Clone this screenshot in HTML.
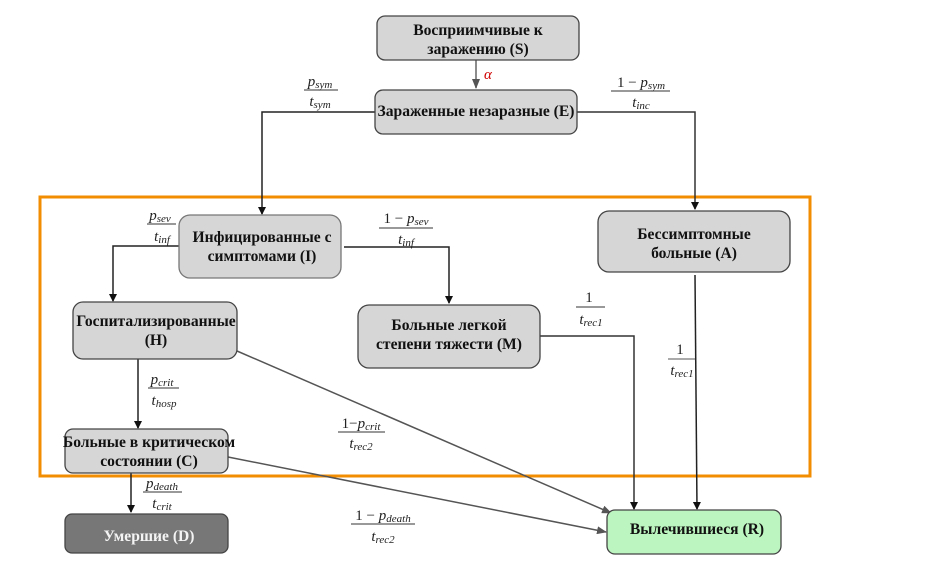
<!DOCTYPE html>
<html><head><meta charset="utf-8"><style>
html,body{margin:0;padding:0;background:#fff;width:941px;height:588px;overflow:hidden}
svg{display:block}
.b{font-family:"Liberation Serif","DejaVu Serif",serif;font-weight:bold;font-size:15.6px;fill:#111}
.m{font-family:"Liberation Serif","DejaVu Serif",serif;font-style:italic;font-size:15px;fill:#222}
.n{font-family:"Liberation Serif","DejaVu Serif",serif;font-style:normal;font-size:15px;fill:#222}
.s{font-size:11px}
</style></head><body>
<svg width="941" height="588" viewBox="0 0 941 588" xmlns="http://www.w3.org/2000/svg">
<defs>
<marker id="ak" markerWidth="8" markerHeight="8" refX="7" refY="4" orient="auto" markerUnits="userSpaceOnUse"><path d="M0,0 L8,4 L0,8 z" fill="#111"/></marker>
<marker id="ag" markerWidth="10" markerHeight="8" refX="9" refY="4" orient="auto" markerUnits="userSpaceOnUse"><path d="M0,0 L10,4 L0,8 z" fill="#555"/></marker>
</defs>
<rect x="40" y="197" width="770" height="279" fill="none" stroke="#f28c00" stroke-width="3"/>
<g fill="none" stroke-width="1.5">
<line x1="476" y1="60" x2="476" y2="88" stroke="#666" marker-end="url(#ag)"/>
<polyline points="375,112 262,112 262,214" stroke="#222" marker-end="url(#ak)"/>
<polyline points="577,112 695,112 695,209" stroke="#333" marker-end="url(#ak)"/>
<polyline points="179,246 113,246 113,301" stroke="#222" marker-end="url(#ak)"/>
<polyline points="344,247 449,247 449,303" stroke="#222" marker-end="url(#ak)"/>
<polyline points="540,336 634,336 634,509" stroke="#333" marker-end="url(#ak)"/>
<polyline points="695,275 697,509" stroke="#222" marker-end="url(#ak)"/>
<line x1="138" y1="359" x2="138" y2="428" stroke="#222" marker-end="url(#ak)"/>
<line x1="131" y1="473" x2="131" y2="512" stroke="#222" marker-end="url(#ak)"/>
<line x1="237" y1="351" x2="611" y2="513" stroke="#555" marker-end="url(#ag)"/>
<line x1="228" y1="457" x2="606" y2="532" stroke="#555" marker-end="url(#ag)"/>
<line x1="668" y1="359" x2="695" y2="359" stroke="#555" stroke-width="1"/>
</g>
<g stroke="#444" stroke-width="1.3">
<rect x="377" y="16" width="202" height="44" rx="8" fill="#d6d6d6"/>
<rect x="375" y="90" width="202" height="44" rx="8" fill="#d6d6d6"/>
<rect x="179" y="215" width="162" height="63" rx="11" fill="#d6d6d6" stroke="#777"/>
<rect x="598" y="211" width="192" height="61" rx="11" fill="#d6d6d6"/>
<rect x="73" y="302" width="164" height="57" rx="10" fill="#d6d6d6"/>
<rect x="358" y="305" width="182" height="63" rx="11" fill="#d6d6d6"/>
<rect x="65" y="429" width="163" height="44" rx="8" fill="#d6d6d6"/>
<rect x="65" y="514" width="163" height="39" rx="7" fill="#777"/>
<rect x="607" y="510" width="174" height="44" rx="8" fill="#bcf5bf"/>
</g>
<g class="b" text-anchor="middle">
<text x="478" y="35">Восприимчивые к</text>
<text x="478" y="54">заражению (S)</text>
<text x="476" y="116">Зараженные незаразные (Е)</text>
<text x="262" y="242">Инфицированные с</text>
<text x="262" y="261">симптомами (I)</text>
<text x="694" y="239">Бессимптомные</text>
<text x="694" y="258">больные (А)</text>
<text x="156" y="326">Госпитализированные</text>
<text x="156" y="345">(H)</text>
<text x="449" y="330">Больные легкой</text>
<text x="449" y="349">степени тяжести (М)</text>
<text x="149" y="447">Больные в критическом</text>
<text x="149" y="466">состоянии (С)</text>
<text x="149" y="541" fill="#f4f4f4">Умершие (D)</text>
<text x="697" y="534">Вылечившиеся (R)</text>
</g>
<text x="484" y="79" class="m" font-size="16" style="fill:#d00000">α</text>
<g stroke="#333" stroke-width="1">
<line x1="304" y1="90" x2="338" y2="90"/>
<line x1="611" y1="91" x2="670" y2="91"/>
<line x1="147" y1="224" x2="176" y2="224"/>
<line x1="379" y1="228" x2="433" y2="228"/>
<line x1="576" y1="307" x2="605" y2="307"/>
<line x1="148" y1="388" x2="179" y2="388"/>
<line x1="338" y1="432" x2="385" y2="432"/>
<line x1="143" y1="492" x2="182" y2="492"/>
<line x1="351" y1="524" x2="415" y2="524"/>
</g>
<g class="m" text-anchor="middle">
<text x="320" y="86">p<tspan class="s" dy="2">sym</tspan></text>
<text x="320" y="106">t<tspan class="s" dy="2">sym</tspan></text>
<text x="641" y="87"><tspan class="n">1 − </tspan>p<tspan class="s" dy="2">sym</tspan></text>
<text x="641" y="107">t<tspan class="s" dy="2">inc</tspan></text>
<text x="160" y="220">p<tspan class="s" dy="2">sev</tspan></text>
<text x="162" y="241">t<tspan class="s" dy="2">inf</tspan></text>
<text x="406" y="223"><tspan class="n">1 − </tspan>p<tspan class="s" dy="2">sev</tspan></text>
<text x="406" y="244">t<tspan class="s" dy="2">inf</tspan></text>
<text x="589" y="302" class="n">1</text>
<text x="591" y="324">t<tspan class="s" dy="2">rec1</tspan></text>
<text x="680" y="354" class="n">1</text>
<text x="682" y="375">t<tspan class="s" dy="2">rec1</tspan></text>
<text x="162" y="384">p<tspan class="s" dy="2">crit</tspan></text>
<text x="164" y="405">t<tspan class="s" dy="2">hosp</tspan></text>
<text x="361" y="428"><tspan class="n">1−</tspan>p<tspan class="s" dy="2">crit</tspan></text>
<text x="361" y="448">t<tspan class="s" dy="2">rec2</tspan></text>
<text x="162" y="488">p<tspan class="s" dy="2">death</tspan></text>
<text x="162" y="508">t<tspan class="s" dy="2">crit</tspan></text>
<text x="383" y="520"><tspan class="n">1 − </tspan>p<tspan class="s" dy="2">death</tspan></text>
<text x="383" y="541">t<tspan class="s" dy="2">rec2</tspan></text>
</g>
</svg>
</body></html>
